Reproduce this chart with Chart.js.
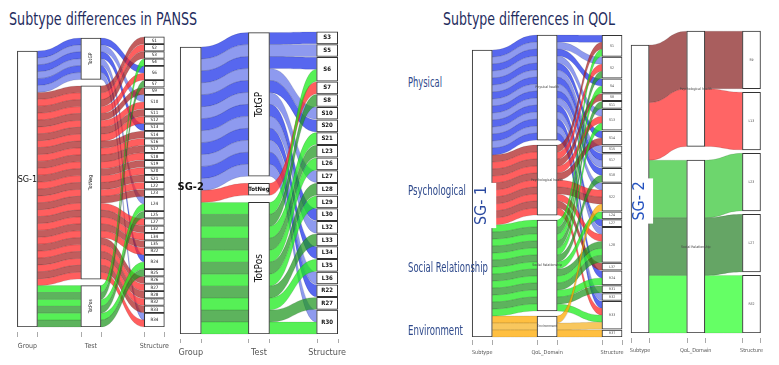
<!DOCTYPE html>
<html><head><meta charset="utf-8">
<script src="https://cdn.jsdelivr.net/npm/chart.js@4.4.1/dist/chart.umd.min.js"></script>
<style>
html,body{margin:0;padding:0;background:#fff;}
body{width:779px;height:365px;overflow:hidden;position:relative;}
.pane{position:absolute;}
.lbl{position:absolute;white-space:nowrap;transform-origin:0 50%;font-family:"Liberation Sans Narrow","DejaVu Sans Condensed","Liberation Sans",Arial,sans-serif;line-height:1;}
</style></head><body>
<div class="lbl" data-w="188" style="left:9px;top:10px;font-size:18px;color:#1f2d5e">Subtype differences in PANSS</div>
<div class="lbl" data-w="172" style="left:443px;top:10px;font-size:18px;color:#1f2d5e">Subtype differences in QOL</div>
<script>
// ---------------- DATA ----------------
const panssAxes = ['Group', 'Test', 'Structure'];
const qolAxes = ['Subtype', 'QoL_Domain', 'Structure'];
const panssTests = ['TotGP', 'TotNeg', 'TotPos'];
const qolTests1 = ['Physical health', 'Psychological health', 'Social Relationship', 'Environment'];
const qolTests2 = ['Psychological health', 'Social Relationship'];
const qolDomains = ['Physical', 'Psychological', 'Social Relationship', 'Environment'];

// SG-1 PANSS: structure strata (top to bottom)
const panss1Struct = ['S1','S2','S3','S4','S6','S7','S9','S10','S11','S12','S13','S14','S16','S17','S18','S19','S20','S21',
  'L22','L23','L24','L25','L27','L32','L34','L35','R22','R24','R25','R26','R27','R28','R32','R33','R34'];
// test index of each alluvium reaching each structure stratum (0=TotGP,1=TotNeg,2=TotPos)
const panss1Links = [[1],[1],[1],[2],[0,1],[2],[1],[0,1],[1],[1],[0],[1],[1],[1],[1],[1],[1],[1],
  [1],[1],[0,2],[2],[1],[1],[1],[1],[1],[0,2],[2],[1],[1],[1],[1],[1],[0,1]];

// SG-2 PANSS
const panss2Struct = ['S3','S5','S6','S7','S8','S10','S20','S21','L23','L26','L27','L28','L29','L30','L32','L33','L34','L35','L36','R22','R27','R30'];
const panss2Links = [[0],[0],[0,2],[1],[2],[0],[0],[2],[2],[2],[0],[2],[2],[0],[0],[2],[0],[2],[0],[0],[2],[0,2]];

// SG-1 QOL (0=Physical,1=Psychological,2=Social,3=Environment)
const qol1Struct = ['S1','S2','S4','S8','S11','S13','S14','S15','S17','S18','S22','L24','L27','L28','L37','R24','R31','R32','R33','R37'];
const qol1Links = [[0,1,2],[0,1,2],[0,2],[1],[2],[0,1,2],[0,1],[0],[0,0],[0,2],[0,1,1,3],[2],[0],[0,1,2,2,2],[1],[0,2],[2],[0],[0,1,2,3],[3]];

// SG-2 QOL (0=Psychological,1=Social)
const qol2Struct = ['S9','L13','L23','L27','R32'];
const qol2Links = [[0],[0],[1],[1],[1]];

// ---------------- STYLE ----------------
const FONT = '"Liberation Sans Narrow","DejaVu Sans Condensed","Liberation Sans",Arial,sans-serif';
const BLUE = ['rgba(40,60,235,0.78)', 'rgba(110,125,235,0.78)'];
const RED = ['rgba(170,30,30,0.72)', 'rgba(255,40,40,0.75)'];
const GREEN = ['rgba(30,235,30,0.75)', 'rgba(30,150,30,0.72)'];
const ORANGE = ['rgba(255,170,0,0.75)', 'rgba(245,180,40,0.75)'];

const panels = [
  { key: 'p1', group: 'SG-1', tests: panssTests, struct: panss1Struct, links: panss1Links, axes: panssAxes,
    cx0: 27.5, step: 64, xmin: -0.4, xmax: 2.45, boxW: 20, bottom: 327, unit: 6.9, gapT: 0.94, gapS: 0.06,
    colors: [BLUE, RED, GREEN],
    groupFont: '9px', groupRot: false, groupDy: -9, groupColor: '#111', groupBg: false,
    testFont: ['5px', '5px', '5px'], testRot: [true, true, true], structFont: '4.5px', boxText: '#111',
    tickFont: 7, tickPad: 15, tickMark: [5, 10] },
  { key: 'p2', group: 'SG-2', tests: panssTests, struct: panss2Struct, links: panss2Links, axes: panssAxes,
    cx0: 190.5, step: 68.5, xmin: -0.45, xmax: 2.45, boxW: 21, bottom: 334, unit: 11.96, gapT: 0.6, gapS: 0.06,
    colors: [BLUE, [RED[1]], GREEN],
    groupFont: 'bold 11px', groupRot: false, groupDy: -3, groupColor: '#111', groupBg: false,
    testFont: ['10px', 'bold 6px', '10px'], testRot: [true, false, true], structFont: 'bold 6px', boxText: '#111',
    tickFont: 9, tickPad: 13, tickMark: [5, 9] },
  { key: 'p3', group: 'SG- 1', tests: qolTests1, struct: qol1Struct, links: qol1Links, axes: qolAxes,
    cx0: 482, step: 64.75, xmin: -0.45, xmax: 2.4, boxW: 20, bottom: 337, unit: 7.0, gapT: 0.71, gapS: 0.11,
    colors: [BLUE, RED, GREEN, ORANGE],
    groupFont: '16px', groupRot: true, groupDy: 12, groupColor: '#2b4aa0', groupBg: true,
    testFont: ['3.5px', '3.5px', '3.5px', '3.5px'], testRot: [false, false, false, false], structFont: '3.5px', boxText: '#444',
    tickFont: 5.5, tickPad: 12, tickMark: [3, 8] },
  { key: 'p4', group: 'SG- 2', tests: qolTests2, struct: qol2Struct, links: qol2Links, axes: qolAxes,
    cx0: 643, step: 61.25, xmin: -0.45, xmax: 2.2, boxW: 18, bottom: 333, unit: 57.6, gapT: 0.24, gapS: 0.06,
    colors: [['rgba(140,40,40,0.75)', 'rgba(255,50,50,0.75)'],
             ['rgba(60,200,60,0.75)', 'rgba(50,135,50,0.75)', 'rgba(50,255,50,0.75)']],
    groupFont: '16px', groupRot: true, groupDy: 12, groupColor: '#2452c0', groupBg: true,
    testFont: ['3.5px', '3.5px'], testRot: [false, false], structFont: '3.5px', boxText: '#444',
    tickFont: 5.5, tickPad: 14, tickMark: [5, 10] }
];
const domainStyle = { left: 408, cy: [82, 189.5, 267, 330], w: [34, 58, 80, 55], size: 14, color: '#2f4a8c' };

// ---------------- LAYOUT ----------------
function stackAxis(sizes, gap) {
  const total = sizes.reduce((a, b) => a + b, 0) + gap * (sizes.length - 1);
  let top = total;
  return sizes.map(s => { const r = { hi: top, lo: top - s }; top -= s + gap; return r; });
}
function computeLayout(p) {
  const all = [];
  p.links.forEach((list, k) => list.forEach((t, j) => all.push({ t, k, j })));
  const N = all.length;
  const sSizes = p.links.map(l => l.length);
  const tSizes = p.tests.map((_, i) => all.filter(a => a.t === i).length);
  const G = stackAxis([N], 0), T = stackAxis(tSizes, p.gapT), S = stackAxis(sSizes, p.gapS);
  const order = all.slice().sort((a, b) => a.t - b.t || a.k - b.k || a.j - b.j);
  const cnt = p.tests.map(() => 0);
  order.forEach((a, i) => {
    a.g = [G[0].hi - i - 1, G[0].hi - i];
    const r = cnt[a.t]++;
    a.tt = [T[a.t].hi - r - 1, T[a.t].hi - r];
    a.s = [S[a.k].hi - a.j - 1, S[a.k].hi - a.j];
    const sh = p.colors[a.t];
    a.color = sh[r % sh.length];
  });
  const boxes = [{ axis: 0, lo: G[0].lo, hi: G[0].hi, label: p.group, kind: 'g', i: 0 }]
    .concat(T.map((b, i) => ({ axis: 1, lo: b.lo, hi: b.hi, label: p.tests[i], kind: 't', i })))
    .concat(S.map((b, i) => ({ axis: 2, lo: b.lo, hi: b.hi, label: p.struct[i], kind: 's', i })));
  return { alluvia: order, boxes };
}

function ribbon(ctx, x0, a0, b0, x1, a1, b1) {
  const xm = (x0 + x1) / 2;
  ctx.beginPath();
  ctx.moveTo(x0, a0);
  ctx.bezierCurveTo(xm, a0, xm, a1, x1, a1);
  ctx.lineTo(x1, b1);
  ctx.bezierCurveTo(xm, b1, xm, b0, x0, b0);
  ctx.closePath();
  ctx.fill();
  ctx.stroke();
}

function makePlugin(p, L) {
  return {
    id: 'alluvial_' + p.key,
    beforeDatasetsDraw(chart) {
      const { ctx, scales: { x, y } } = chart;
      const bw = chart.getDatasetMeta(0).data[0].width;
      ctx.save();
      ctx.lineWidth = 0.6;
      ctx.strokeStyle = 'rgba(0,0,0,0.18)';
      L.alluvia.forEach(a => {
        ctx.fillStyle = a.color;
        const segs = [[a.g, a.tt], [a.tt, a.s]];
        segs.forEach((sg, s) => {
          const x0 = x.getPixelForValue(s) + bw / 2, x1 = x.getPixelForValue(s + 1) - bw / 2;
          ribbon(ctx, x0, y.getPixelForValue(sg[0][1]), y.getPixelForValue(sg[0][0]),
                 x1, y.getPixelForValue(sg[1][1]), y.getPixelForValue(sg[1][0]));
        });
      });
      ctx.restore();
    },
    afterDatasetsDraw(chart) {
      const { ctx, scales: { x, y }, chartArea } = chart;
      const bw = chart.getDatasetMeta(0).data[0].width;
      ctx.save();
      ctx.textAlign = 'center';
      ctx.textBaseline = 'middle';
      L.boxes.forEach(b => {
        const cx = x.getPixelForValue(b.axis);
        const cy = (y.getPixelForValue(b.lo) + y.getPixelForValue(b.hi)) / 2;
        let font, rot, color = p.boxText, dy = 0;
        if (b.kind === 'g') { font = p.groupFont; rot = p.groupRot; color = p.groupColor; dy = p.groupDy; }
        else if (b.kind === 't') { font = p.testFont[b.i]; rot = p.testRot[b.i]; }
        else { font = p.structFont; rot = false; }
        ctx.font = font + ' ' + FONT;
        ctx.fillStyle = color;
        ctx.save();
        ctx.translate(cx, cy + dy);
        if (rot) ctx.rotate(-Math.PI / 2);
        if (b.kind === 'g' && p.groupBg) {
          const w = ctx.measureText(b.label).width;
          ctx.fillStyle = '#fff';
          ctx.fillRect(-w / 2 - 3, -bw / 2 + 1, w + 6, bw + 3);
          ctx.fillStyle = color;
        }
        ctx.fillText(b.label, 0, 0);
        ctx.restore();
      });
      ctx.strokeStyle = '#aaa';
      ctx.lineWidth = 1;
      [0, 1, 2].forEach(v => {
        const cx = x.getPixelForValue(v);
        [-1, 1].forEach(sg => {
          const xx = Math.round(cx + sg * bw / 2) + 0.5;
          ctx.beginPath();
          ctx.moveTo(xx, chartArea.bottom + p.tickMark[0]);
          ctx.lineTo(xx, chartArea.bottom + p.tickMark[1]);
          ctx.stroke();
        });
      });
      ctx.restore();
    }
  };
}

// ---------------- CHARTS ----------------
const TOP = 20, AXIS_H = 30;
panels.forEach(p => {
  const L = computeLayout(p);
  const left = p.cx0 + p.xmin * p.step;
  const width = Math.round((p.xmax - p.xmin) * p.step);
  const plotH = p.bottom - TOP;
  const height = plotH + AXIS_H;
  const div = document.createElement('div');
  div.className = 'pane';
  div.style.left = left + 'px';
  div.style.top = TOP + 'px';
  div.style.width = width + 'px';
  div.style.height = height + 'px';
  const cv = document.createElement('canvas');
  cv.width = width; cv.height = height;
  cv.style.width = width + 'px'; cv.style.height = height + 'px';
  div.appendChild(cv);
  document.body.appendChild(div);
  new Chart(cv, {
    type: 'bar',
    data: { datasets: [{
      data: L.boxes.map(b => ({ x: b.axis, y: [b.lo, b.hi] })),
      backgroundColor: '#fff', borderColor: '#333', borderWidth: 1, borderSkipped: false,
      barThickness: p.boxW
    }] },
    options: {
      responsive: false, animation: false, events: [], devicePixelRatio: 1,
      layout: { padding: 0 },
      plugins: { legend: { display: false }, tooltip: { enabled: false } },
      scales: {
        x: { type: 'linear', min: p.xmin, max: p.xmax, offset: false,
          grid: { display: false, drawTicks: false }, border: { display: false },
          afterBuildTicks: s => { s.ticks = [0, 1, 2].map(v => ({ value: v })); },
          afterFit: s => { s.height = AXIS_H; },
          ticks: { callback: v => p.axes[v], color: '#555', autoSkip: false, maxRotation: 0,
                   padding: p.tickPad, font: { size: p.tickFont, family: FONT } } },
        y: { type: 'linear', min: 0, max: plotH / p.unit, display: false }
      }
    },
    plugins: [makePlugin(p, L)]
  });
});

// domain labels beside SG-1 QOL
qolDomains.forEach((t, i) => {
  const d = document.createElement('div');
  d.className = 'lbl';
  d.textContent = t;
  d.dataset.w = domainStyle.w[i];
  d.style.left = domainStyle.left + 'px';
  d.style.top = (domainStyle.cy[i] - domainStyle.size / 2) + 'px';
  d.style.fontSize = domainStyle.size + 'px';
  d.style.color = domainStyle.color;
  document.body.appendChild(d);
});
// condense text to its measured width in the reference
document.querySelectorAll('.lbl').forEach(el => {
  const w = el.getBoundingClientRect().width;
  const target = +el.dataset.w;
  if (w > 0 && target) el.style.transform = 'scaleX(' + (target / w).toFixed(3) + ')';
});
</script>
</body></html>
